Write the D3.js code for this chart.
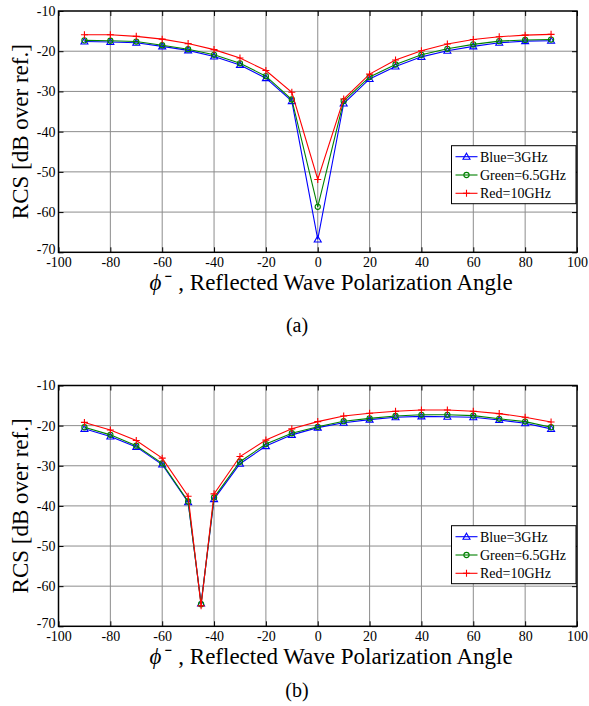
<!DOCTYPE html>
<html><head><meta charset="utf-8">
<script src="https://cdn.jsdelivr.net/npm/d3@7"></script>
<style>body{margin:0;background:#fff}svg{display:block}svg text{font-family:"Liberation Serif","Times New Roman",serif !important}</style>
</head><body>
<script>
// ---- data ----
const xTicks = [-100,-80,-60,-40,-20,0,20,40,60,80,100];
const yTicks = [-10,-20,-30,-40,-50,-60,-70];
const seriesNames = ["Blue=3GHz","Green=6.5GHz","Red=10GHz"];
const seriesColors = ["#0000ff","#008000","#ff0000"];

const anglesA = [-90,-80,-70,-60,-50,-40,-30,-20,-10,0,10,20,30,40,50,60,70,80,90];
const blueA  = [-17.6,-17.7,-17.9,-18.8,-19.8,-21.3,-23.4,-26.7,-32.4,-66.8,-33.0,-26.9,-23.8,-21.4,-19.9,-18.8,-17.9,-17.5,-17.4];
const greenA = [-17.3,-17.4,-17.6,-18.5,-19.5,-20.9,-23.0,-26.2,-32.0,-58.7,-32.4,-26.4,-23.3,-20.9,-19.4,-18.3,-17.5,-17.2,-17.1];
const redA   = [-15.9,-15.9,-16.3,-17.0,-18.1,-19.6,-21.7,-24.8,-30.2,-51.9,-31.9,-25.7,-22.2,-19.9,-18.2,-17.1,-16.4,-16.0,-15.8];

const anglesB = [-90,-80,-70,-60,-50,-45,-40,-30,-20,-10,0,10,20,30,40,50,60,70,80,90];
const blueB  = [-20.8,-22.7,-25.3,-29.7,-39.1,-64.3,-38.3,-29.5,-25.1,-22.3,-20.5,-19.3,-18.5,-17.9,-17.7,-17.8,-17.9,-18.6,-19.4,-20.8];
const greenB = [-20.4,-22.3,-25.0,-29.4,-38.9,-64.5,-37.9,-29.0,-24.6,-21.9,-20.3,-18.9,-18.2,-17.6,-17.3,-17.3,-17.5,-18.3,-19.0,-20.4];
const redB   = [-19.2,-21.1,-23.7,-28.1,-37.6,-64.9,-37.0,-27.7,-23.6,-20.8,-19.0,-17.6,-16.9,-16.4,-16.1,-16.1,-16.4,-17.0,-17.9,-19.1];

const yLabel = "RCS [dB over ref.]";
const xSymbol = "\u03d5\u207b";
const xLabel = ", Reflected Wave Polarization Angle";
const captions = ["(a)","(b)"];

// ---- drawing ----
const W = 589, H = 706;
const FF = '"Liberation Serif","Times New Roman",serif';
const svg = d3.select("body").append("svg").attr("width", W).attr("height", H)
  .style("font-family", FF);

function panel(top, bottom, angles, series, legendTop, caption, captionY) {
  const L = 58.5, R = 577;
  const x = d3.scaleLinear().domain([-100,100]).range([L,R]);
  const y = d3.scaleLinear().domain([-70,-10]).range([bottom, top]);
  const g = svg.append("g");
  const fmt = d => String(d);

  // grid
  g.append("g").selectAll("line").data(xTicks.slice(1,-1)).join("line")
    .attr("x1", d=>x(d)).attr("x2", d=>x(d)).attr("y1", top).attr("y2", bottom)
    .attr("stroke","#8c8c8c").attr("stroke-width",1);
  g.append("g").selectAll("line").data(yTicks.slice(1,-1)).join("line")
    .attr("y1", d=>y(d)).attr("y2", d=>y(d)).attr("x1", L).attr("x2", R)
    .attr("stroke","#8c8c8c").attr("stroke-width",1);

  // axes with inward ticks
  const ax = d3.axisBottom(x).tickValues(xTicks).tickSize(-5).tickPadding(3).tickFormat(fmt);
  const gx = g.append("g").attr("transform",`translate(0,${bottom})`).call(ax)
    .attr("font-family", FF).attr("font-size", 14);
  gx.select(".domain").remove();
  gx.selectAll("text").attr("fill","#000").attr("dy","0.85em").style("font-family", FF);
  const axT = d3.axisTop(x).tickValues(xTicks).tickSize(-5).tickFormat("");
  const gxt = g.append("g").attr("transform",`translate(0,${top})`).call(axT);
  gxt.select(".domain").remove();

  const ay = d3.axisLeft(y).tickValues(yTicks).tickSize(-5).tickPadding(3).tickFormat(fmt);
  const gy = g.append("g").attr("transform",`translate(${L},0)`).call(ay)
    .attr("font-family", FF).attr("font-size", 14);
  gy.select(".domain").remove();
  gy.selectAll("text").attr("fill","#000").style("font-family", FF);
  gy.selectAll(".tick").filter(d=>d===-70).select("text").attr("dy","0.1em");
  const ayR = d3.axisRight(y).tickValues(yTicks).tickSize(-5).tickFormat("");
  const gyr = g.append("g").attr("transform",`translate(${R},0)`).call(ayR);
  gyr.select(".domain").remove();
  g.selectAll(".tick line").attr("stroke","#000");

  g.append("rect").attr("x",L).attr("y",top).attr("width",R-L).attr("height",bottom-top)
    .attr("fill","none").attr("stroke","#000").attr("stroke-width",1.5);

  // lines + markers
  const line = d3.line().x((d,i)=>x(angles[i])).y(d=>y(d));
  series.forEach((vals, si) => {
    const c = seriesColors[si];
    g.append("path").datum(vals).attr("d", line).attr("fill","none").attr("stroke", c).attr("stroke-width",1.1);
    const m = g.append("g");
    vals.forEach((v,i)=> marker(m, si, x(angles[i]), y(v)));
  });

  // legend
  const lx = 451.5, lw = 124.5, lh = 58;
  const lg = g.append("g");
  lg.append("rect").attr("x",lx).attr("y",legendTop).attr("width",lw).attr("height",lh)
    .attr("fill","#fff").attr("stroke","#000").attr("stroke-width",1);
  seriesNames.forEach((nm, si) => {
    const yy = legendTop + 11 + si*18.3;
    lg.append("line").attr("x1",lx+4).attr("x2",lx+26).attr("y1",yy).attr("y2",yy)
      .attr("stroke",seriesColors[si]).attr("stroke-width",1.1);
    marker(lg, si, lx+15, yy);
    lg.append("text").attr("x",lx+28.5).attr("y",yy).attr("dy","0.35em")
      .attr("font-size",14).style("font-family", FF).text(nm);
  });

  // y label
  svg.append("text").attr("transform",`translate(28,${(top+bottom)/2}) rotate(-90)`)
    .attr("text-anchor","middle").attr("font-size",23).style("font-family", FF).text(yLabel);

  // x label: symbol and words side by side
  const by = bottom + 38;
  const t1 = svg.append("text").attr("y", by).attr("font-size",23).attr("font-style","italic")
    .style("font-family", FF).text(xSymbol);
  const t3 = svg.append("text").attr("y", by).attr("font-size",23)
    .style("font-family", FF).text(xLabel);
  const w1 = t1.node().getComputedTextLength();
  const w3 = t3.node().getComputedTextLength();
  const gap = 9;
  const x0 = 331 - (w1 + gap + w3)/2;
  t1.attr("x", x0);
  t3.attr("x", x0 + w1 + gap);

  svg.append("text").attr("x", 297).attr("y", captionY).attr("text-anchor","middle")
    .attr("font-size",20).style("font-family", FF).text(caption);
}

function marker(g, si, cx, cy) {
  const c = seriesColors[si];
  if (si === 0) {
    g.append("path").attr("d", `M${cx},${cy-3.5}L${cx+3.5},${cy+2.5}L${cx-3.5},${cy+2.5}Z`)
      .attr("fill","none").attr("stroke",c).attr("stroke-width",1.1);
  } else if (si === 1) {
    g.append("circle").attr("cx",cx).attr("cy",cy).attr("r",2.6)
      .attr("fill","none").attr("stroke",c).attr("stroke-width",1.1);
  } else {
    g.append("path").attr("d", `M${cx-3.5},${cy}H${cx+3.5}M${cx},${cy-3.5}V${cy+3.5}`)
      .attr("stroke",c).attr("stroke-width",1.1);
  }
}

panel(11, 252.3, anglesA, [blueA, greenA, redA], 145.7, captions[0], 332);
panel(385.5, 626.3, anglesB, [blueB, greenB, redB], 525.7, captions[1], 697);
</script>
</body></html>
